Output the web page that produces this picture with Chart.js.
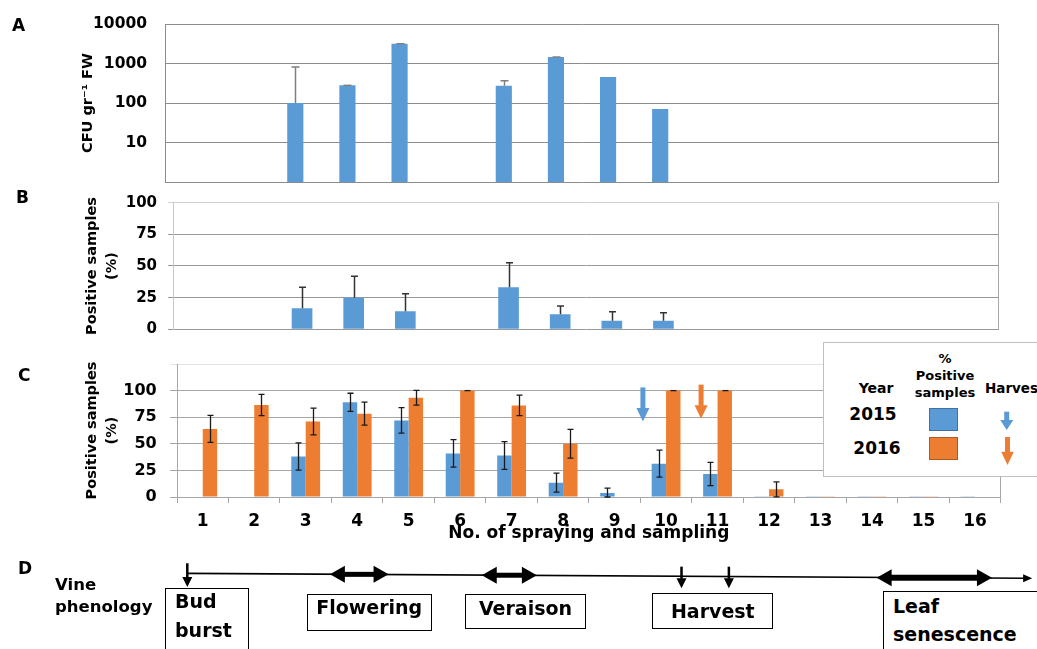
<!DOCTYPE html>
<html>
<head>
<meta charset="utf-8">
<script src="https://cdn.jsdelivr.net/npm/chart.js@4.4.1/dist/chart.umd.min.js"></script>
<style>
  body { margin: 0; background: #fff; }
  #page { position: relative; width: 1037px; height: 649px; overflow: hidden;
          font-family: 'DejaVu Sans', sans-serif; font-weight: bold; color: #000; }
  .wrap { position: absolute; left: 0; width: 1037px; }
  .t { position: absolute; line-height: 1; white-space: nowrap; }
  .c { text-align: center; }
  .frame { position: absolute; border: 1px solid #000; box-sizing: border-box; background: #fff; }
  #legend { position: absolute; left: 823px; top: 342px; width: 260px; height: 135px;
            border: 1px solid #bfbfbf; box-sizing: border-box; background: #fff; z-index: 2; }
  .sw { position: absolute; width: 29px; height: 23px; box-sizing: border-box; z-index: 3; }
  .lg { z-index: 3; }
</style>
</head>
<body>
<div id="page">
  <div class="wrap" style="top:0;height:195px"><canvas id="chartA"></canvas></div>
  <div class="wrap" style="top:190px;height:150px"><canvas id="chartB"></canvas></div>
  <div class="wrap" style="top:345px;height:212px"><canvas id="chartC"></canvas></div>
  <div class="wrap" style="top:555px;height:94px"><canvas id="chartD"></canvas></div>

  <!-- panel letters -->
  <div class="t" style="left:12px;top:16.5px;font-size:17px">A</div>
  <div class="t" style="left:16px;top:188.5px;font-size:17px">B</div>
  <div class="t" style="left:18px;top:366.8px;font-size:17px">C</div>
  <div class="t" style="left:18px;top:560.3px;font-size:17px">D</div>

  <!-- legend of panel C -->
  <div id="legend"></div>
  <div class="t c lg" style="left:836px;width:80px;top:380.8px;font-size:14px">Year</div>
  <div class="t c lg" style="left:905px;width:80px;top:351.7px;font-size:13px">%</div>
  <div class="t c lg" style="left:905px;width:80px;top:368.8px;font-size:13px">Positive</div>
  <div class="t c lg" style="left:905px;width:80px;top:386.3px;font-size:13px">samples</div>
  <div class="t lg" style="left:985px;top:381.5px;font-size:13.5px">Harvest</div>
  <div class="t c lg" style="left:833px;width:80px;top:405.8px;font-size:17px">2015</div>
  <div class="t c lg" style="left:837px;width:80px;top:440.1px;font-size:17px">2016</div>
  <div class="sw" style="left:929px;top:408px;background:#5B9BD5;border:1px solid #41719c"></div>
  <div class="sw" style="left:929px;top:437px;background:#ED7D31;border:1px solid #ae5a21"></div>
  <svg class="lg" style="position:absolute;left:996px;top:408px;z-index:3" width="24" height="60">
    <rect x="8.2" y="3.7" width="5" height="8.5" fill="#5B9BD5"/>
    <polygon points="4.3,12 17.3,12 10.7,22" fill="#5B9BD5"/>
    <rect x="9" y="29" width="5" height="15" fill="#ED7D31"/>
    <polygon points="5.2,43.7 17.8,43.7 11.5,57" fill="#ED7D31"/>
  </svg>

  <!-- panel D labels -->
  <div class="t" style="left:55px;top:576.7px;font-size:16.5px">Vine</div>
  <div class="t" style="left:55px;top:599.3px;font-size:16.5px">phenology</div>
  <div class="frame" style="left:165px;top:588px;width:84px;height:80px"></div>
  <div class="t" style="left:175px;top:592.2px;font-size:19px">Bud</div>
  <div class="t" style="left:175px;top:620.6px;font-size:19px">burst</div>
  <div class="frame" style="left:306.7px;top:594px;width:125px;height:36.7px"></div>
  <div class="t c" style="left:306.7px;width:125px;top:598.2px;font-size:19px">Flowering</div>
  <div class="frame" style="left:465px;top:594px;width:121px;height:34.7px"></div>
  <div class="t c" style="left:465px;width:121px;top:598.9px;font-size:19px">Veraison</div>
  <div class="frame" style="left:652.3px;top:592.7px;width:121px;height:36.3px"></div>
  <div class="t c" style="left:652.3px;width:121px;top:601.6px;font-size:19px">Harvest</div>
  <div class="frame" style="left:883.3px;top:591px;width:200px;height:80px"></div>
  <div class="t" style="left:893px;top:597.2px;font-size:19px">Leaf</div>
  <div class="t" style="left:893px;top:625.4px;font-size:19px">senescence</div>
</div>

<script>
// ---- data ----
const samplingNo = ['1','2','3','4','5','6','7','8','9','10','11','12','13','14','15','16'];

// A: CFU per gram fresh weight, 2015 (log scale), upper error only
const cfu2015    = [null, null, 100, 280, 3170, null, 275, 1460, 455, 70, null, null, null, null, null, null];
const cfuErr2015 = [null, null, 710, 0, 0, null, 90, 0, null, null, null, null, null, null, null, null];
const cfuTicks   = [1, 10, 100, 1000, 10000];

// B: positive samples (%), 2015
const posB2015    = [null, null, 16.7, 25, 14.3, null, 33.3, 11.8, 6.7, 6.7, null, null, null, null, null, null];
const posBErr2015 = [null, null, 16.6, 17, 13.8, null, 19.2, 6.6, 7.2, 6.4, null, null, null, null, null, null];

// C: positive samples (%), 2015 vs 2016
const posC2015    = [null, null, 38, 89, 72, 41, 39, 13.5, 3.7, 31.3, 21.6, 0.8, 0.8, 0.8, 0.8, 0.8];
const posCErr2015 = [null, null, 12.8, 8.5, 12, 13, 13, 9, 4.7, 12.7, 11, null, null, null, null, null];
const posC2016    = [64, 86.5, 71, 78.3, 93.3, 100, 86.1, 50.1, null, 100, 100, 7.2, 0.8, 0.8, 0.8, null];
const posCErr2016 = [12.7, 10, 12.6, 10.8, 7, 0, 9.7, 13.5, null, 0, 0, 7, null, null, null, null];

// harvest markers in C (position on the sampling axis, arrow from/to in %)
const harvestColor = ['#5B9BD5', '#ED7D31'];
const harvestPos   = [8.55, 9.68];
const harvestTop   = [103, 105.6];
const harvestTip   = [71, 73.6];

// D: vine phenology along the same sampling axis
const timelineFrom   = 0.70;
const timelineTo     = 17.11;
const timelineLevels = [0.805, 0.752];
const eventPos       = [0.70, 10.30, 11.22];   // bud burst, harvest 2015, harvest 2016
const eventTop       = [0.912, 0.876, 0.876];
const eventTip       = [0.66, 0.646, 0.646];
const stageFrom      = [3.47, 6.42, 14.09];    // flowering, veraison, leaf senescence
const stageTo        = [4.61, 7.49, 16.33];

const BLUE = '#5B9BD5';
const ORANGE = '#ED7D31';

Chart.defaults.font.family = "'DejaVu Sans', sans-serif";
Chart.defaults.font.weight = 'bold';
Chart.defaults.color = '#000';

// fixed axis width, no extra label padding above/below the plot
const fixWidth = w => s => { s.width = w; s.paddingTop = 0; s.paddingBottom = 0; };

// error bars from dataset.errors
const errorBars = {
  id: 'errorBars',
  afterDatasetsDraw(chart, args, opts) {
    const ctx = chart.ctx;
    const yScale = chart.scales.y;
    chart.data.datasets.forEach((ds, di) => {
      if (!ds.errors) return;
      const meta = chart.getDatasetMeta(di);
      ctx.save();
      ctx.strokeStyle = opts.color;
      ctx.lineWidth = opts.width;
      meta.data.forEach((bar, i) => {
        const v = ds.data[i], e = ds.errors[i];
        if (v == null || e == null) return;
        const x = Math.round(bar.x) + 0.5;
        const yHi = yScale.getPixelForValue(v + e);
        const yLo = opts.both ? yScale.getPixelForValue(Math.max(v - e, 0)) : bar.y;
        const h = opts.cap / 2;
        ctx.beginPath();
        ctx.moveTo(x, yLo); ctx.lineTo(x, yHi);
        ctx.moveTo(x - h, yHi); ctx.lineTo(x + h, yHi);
        if (opts.both && e > 0) { ctx.moveTo(x - h, yLo); ctx.lineTo(x + h, yLo); }
        ctx.stroke();
      });
      ctx.restore();
    });
  }
};

// right edge of the plot box
const rightEdge = {
  id: 'rightEdge',
  beforeDatasetsDraw(chart, args, opts) {
    const {ctx, chartArea: a} = chart;
    ctx.save();
    ctx.strokeStyle = opts.color;
    ctx.lineWidth = 1;
    const x = Math.round(a.right) - 0.5;
    ctx.beginPath(); ctx.moveTo(x, a.top); ctx.lineTo(x, a.bottom); ctx.stroke();
    ctx.restore();
  }
};

function downArrow(ctx, x, yTop, yTip, shaft, headW, headL, color) {
  ctx.fillStyle = color;
  ctx.fillRect(x - shaft / 2, yTop, shaft, yTip - headL - yTop + 0.5);
  ctx.beginPath();
  ctx.moveTo(x - headW / 2, yTip - headL);
  ctx.lineTo(x + headW / 2, yTip - headL);
  ctx.lineTo(x, yTip);
  ctx.closePath();
  ctx.fill();
}

// harvest arrows inside panel C
const harvestArrows = {
  id: 'harvestArrows',
  afterDatasetsDraw(chart) {
    const {ctx, scales: {x, y}} = chart;
    ctx.save();
    harvestPos.forEach((p, i) => {
      downArrow(ctx, x.getPixelForValue(p), y.getPixelForValue(harvestTop[i]),
                y.getPixelForValue(harvestTip[i]), 5, 13, 13.5, harvestColor[i]);
    });
    ctx.restore();
  }
};

// vine phenology time line (panel D)
const phenology = {
  id: 'phenology',
  afterDraw(chart) {
    const {ctx, scales: {x, y}} = chart;
    const level = v => {
      const t = (v - timelineFrom) / (timelineTo - timelineFrom);
      return y.getPixelForValue(timelineLevels[0] + t * (timelineLevels[1] - timelineLevels[0]));
    };
    ctx.save();
    ctx.strokeStyle = '#000';
    ctx.fillStyle = '#000';
    ctx.lineWidth = 1.6;
    const x0 = x.getPixelForValue(timelineFrom), x1 = x.getPixelForValue(timelineTo);
    const y0 = level(timelineFrom), y1 = level(timelineTo);
    ctx.beginPath(); ctx.moveTo(x0, y0); ctx.lineTo(x1 - 6, y1); ctx.stroke();
    ctx.beginPath();
    ctx.moveTo(x1, y1); ctx.lineTo(x1 - 9, y1 - 4); ctx.lineTo(x1 - 9, y1 + 4); ctx.closePath();
    ctx.fill();

    eventPos.forEach((p, i) => {
      downArrow(ctx, x.getPixelForValue(p), y.getPixelForValue(eventTop[i]),
                y.getPixelForValue(eventTip[i]), 2.5, 10, 10, '#000');
    });

    stageFrom.forEach((s, i) => {
      const xa = x.getPixelForValue(s), xb = x.getPixelForValue(stageTo[i]);
      const yc = level((s + stageTo[i]) / 2);
      const headL = 15, headH = 17, shaft = i === 2 ? 6 : 5;
      ctx.fillRect(xa + headL - 1, yc - shaft / 2, xb - xa - 2 * headL + 2, shaft);
      ctx.beginPath();
      ctx.moveTo(xa, yc); ctx.lineTo(xa + headL, yc - headH / 2); ctx.lineTo(xa + headL, yc + headH / 2);
      ctx.closePath(); ctx.fill();
      ctx.beginPath();
      ctx.moveTo(xb, yc); ctx.lineTo(xb - headL, yc - headH / 2); ctx.lineTo(xb - headL, yc + headH / 2);
      ctx.closePath(); ctx.fill();
    });
    ctx.restore();
  }
};

// ---- panel A ----
new Chart(document.getElementById('chartA'), {
  type: 'bar',
  data: {
    labels: samplingNo,
    datasets: [{ data: cfu2015, errors: cfuErr2015, backgroundColor: BLUE,
                 barPercentage: 0.31, categoryPercentage: 1 }]
  },
  options: {
    responsive: true, maintainAspectRatio: false, animation: false,
    layout: { padding: { left: 0, right: 38, top: 24, bottom: 13 } },
    plugins: {
      legend: { display: false }, tooltip: { enabled: false },
      errorBars: { color: '#7f7f7f', width: 1.5, cap: 8, both: false },
      rightEdge: { color: '#8c8c8c' }
    },
    scales: {
      x: { display: false },
      y: {
        type: 'logarithmic', min: 1, max: 10000,
        afterBuildTicks: s => { s.ticks = cfuTicks.map(v => ({ value: v })); },
        afterFit: fixWidth(165),
        ticks: { padding: 18, font: { size: 15.5 }, callback: v => (v === 1 ? '' : String(v)) },
        grid: { color: '#8c8c8c', drawTicks: false },
        border: { display: true, color: '#8c8c8c' },
        title: { display: true, text: 'CFU gr⁻¹ FW', font: { size: 14.5 }, padding: { top: 80 } }
      }
    }
  },
  plugins: [errorBars, rightEdge]
});

// ---- panel B ----
new Chart(document.getElementById('chartB'), {
  type: 'bar',
  data: {
    labels: samplingNo,
    datasets: [{ data: posB2015, errors: posBErr2015, backgroundColor: BLUE,
                 barPercentage: 0.40, categoryPercentage: 1 }]
  },
  options: {
    responsive: true, maintainAspectRatio: false, animation: false,
    layout: { padding: { left: 0, right: 38, top: 12.7, bottom: 10.7 } },
    plugins: {
      legend: { display: false }, tooltip: { enabled: false },
      errorBars: { color: '#333', width: 1.5, cap: 7, both: false },
      rightEdge: { color: '#a6a6a6' }
    },
    scales: {
      x: { display: false },
      y: {
        min: 0, max: 100,
        afterFit: fixWidth(173),
        ticks: { stepSize: 25, padding: 11, font: { size: 15 } },
        grid: { color: ctx => (ctx.tick && ctx.tick.value === 100 ? '#d0d0d0' : '#999'), tickLength: 5 },
        border: { display: true, color: '#c8c8c8' },
        title: { display: true, text: ['Positive samples', '(%)'], font: { size: 14.5, lineHeight: 1.4 },
                 padding: { top: 82 } }
      }
    }
  },
  plugins: [errorBars, rightEdge]
});

// ---- panel C ----
new Chart(document.getElementById('chartC'), {
  type: 'bar',
  data: {
    labels: samplingNo,
    datasets: [
      { label: '2015', data: posC2015, errors: posCErr2015, backgroundColor: BLUE,
        barPercentage: 1, categoryPercentage: 0.56 },
      { label: '2016', data: posC2016, errors: posCErr2016, backgroundColor: ORANGE,
        barPercentage: 1, categoryPercentage: 0.56 }
    ]
  },
  options: {
    responsive: true, maintainAspectRatio: false, animation: false,
    layout: { padding: { left: 0, right: 36.3, top: 19, bottom: 0 } },
    plugins: {
      legend: { display: false }, tooltip: { enabled: false },
      errorBars: { color: '#1a1a1a', width: 1.3, cap: 6, both: true },
      rightEdge: { color: '#a6a6a6' }
    },
    scales: {
      x: {
        afterFit: s => { s.height = 60; },
        ticks: { padding: 8, font: { size: 17 } },
        grid: { offset: true, drawOnChartArea: false, tickLength: 6, color: '#a6a6a6' },
        border: { color: '#a6a6a6' },
        title: { display: true, text: 'No. of spraying and sampling', font: { size: 17 },
                 padding: { top: 0, bottom: 13 } }
      },
      y: {
        min: 0, max: 125,
        afterFit: fixWidth(177),
        ticks: { stepSize: 25, padding: 13.3, font: { size: 16 }, callback: v => (v === 125 ? '' : v) },
        grid: { color: ctx => (ctx.tick && ctx.tick.value === 125 ? '#e2e2e2' : '#a6a6a6'), tickLength: 7 },
        border: { display: true, color: '#a6a6a6' },
        title: { display: true, text: ['Positive samples', '(%)'], font: { size: 14.5, lineHeight: 1.4 },
                 padding: { top: 82 } }
      }
    }
  },
  plugins: [errorBars, rightEdge, harvestArrows]
});

// ---- panel D ----
new Chart(document.getElementById('chartD'), {
  type: 'scatter',
  data: { datasets: [] },
  options: {
    responsive: true, maintainAspectRatio: false, animation: false,
    layout: { padding: { left: 177, right: 36.3, top: 0, bottom: 0 } },
    plugins: { legend: { display: false }, tooltip: { enabled: false } },
    scales: {
      x: { type: 'linear', display: false, min: 0.5, max: 16.5 },
      y: { type: 'linear', display: false, min: 0, max: 1 }
    }
  },
  plugins: [phenology]
});
</script>
</body>
</html>
